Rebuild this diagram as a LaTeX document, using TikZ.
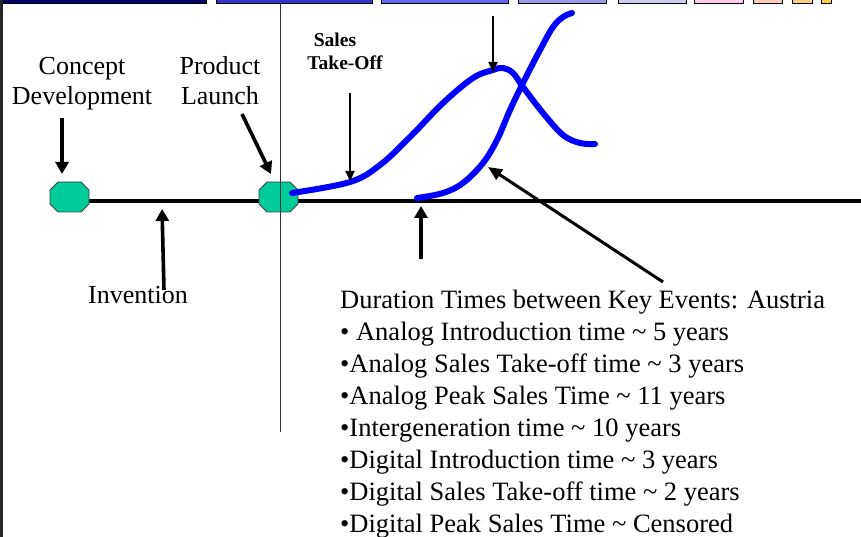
\documentclass[tikz,border=0pt]{standalone}
\usepackage{fontspec}
\setmainfont{Liberation Serif}
\usetikzlibrary{arrows.meta}
\definecolor{octfill}{HTML}{00CC99}
\definecolor{curveblue}{HTML}{0000FF}
\definecolor{barA}{HTML}{000066}
\definecolor{barB}{HTML}{3333CC}
\definecolor{barC}{HTML}{6666EE}
\definecolor{barD}{HTML}{9999EE}
\definecolor{barE}{HTML}{CCCCF0}
\definecolor{barF}{HTML}{FFCCF0}
\definecolor{barG}{HTML}{FFCCBB}
\definecolor{barH}{HTML}{FFCC88}
\definecolor{barI}{HTML}{FFCC44}
\newcommand{\octoshape}[1]{%
  \filldraw[fill=octfill, draw=black!75, line width=0.8pt]
    ([shift={(-19.5,-7)}]#1.center) -- ([shift={(-11.5,-15)}]#1.center) --
    ([shift={(11.5,-15)}]#1.center) -- ([shift={(19.5,-7)}]#1.center) --
    ([shift={(19.5,7)}]#1.center) -- ([shift={(11.5,15)}]#1.center) --
    ([shift={(-11.5,15)}]#1.center) -- ([shift={(-19.5,7)}]#1.center) -- cycle;}
\begin{document}
\begin{tikzpicture}[x=1pt,y=-1pt,
  octo/.style={minimum width=39pt, minimum height=30pt, inner sep=0pt},
  bigarrow/.style={line width=3.6pt, -{Triangle[width=13pt,length=12pt]}},
  thinarrow/.style={line width=2.2pt, -{Triangle[width=9pt,length=10pt]}},
  bluecurve/.style={curveblue, line width=6pt, line cap=round, line join=round},
  lbl/.style={font=\fontsize{26}{32}\selectfont, inner sep=0pt},
  listlbl/.style={font=\fontsize{26.5}{32}\selectfont, inner sep=0pt},
  boldlbl/.style={font=\fontsize{19.5}{23}\selectfont\bfseries, inner sep=0pt},
  bar/.style={draw=black, line width=0.6pt}]
\useasboundingbox (0,0) rectangle (861,537);
\fill[white] (0,0) rectangle (861,537);
% top bars
\foreach \a/\b/\c in {0/206/barA,216/372/barB,381/508/barC,518/606/barD,618/686/barE,694/743/barF,753/782/barG,792/812/barH,821/831/barI}
  \filldraw[bar, fill=\c] (\a,-2) rectangle (\b,3.5);
% left border
\draw[line width=2.6pt, black!85] (1.3,0) -- (1.3,537);
% timeline
\node[octo] (o1) at (69.5,197) {};
\node[octo] (o2) at (278.5,197) {};
\coordinate (lineR) at (861,201);
\draw[line width=4.5pt] (o1.east |- lineR) -- (lineR);
\octoshape{o1}
\octoshape{o2}
% thin vertical line
\coordinate (vt) at (280,3);
\coordinate (vb) at (280,432);
\draw[line width=0.9pt, black!80] (vt) -- (vb);
% curves
\draw[bluecurve] plot[smooth, tension=0.6] coordinates {(292,193) (350,182) (380,165) (410,137) (443,103) (473,78) (493,70) (503,68) (513,73) (523,87) (543,113) (563,135) (580,143) (595,144)};
\draw[bluecurve] plot[smooth, tension=0.6] coordinates {(417,198) (443,193) (463,183) (483,163) (497,140) (510,110) (523,83) (540,50) (553,27) (563,17) (572,13)};
% labels
\node[lbl, anchor=base] (cd1) at (82,75) {Concept};
\node[lbl, anchor=base] (cd2) at (82,105) {Development};
\node[lbl, anchor=base] (pl1) at (220,75) {Product};
\node[lbl, anchor=base] (pl2) at (220,105) {Launch};
\node[boldlbl, anchor=base] (st1) at (335,47) {Sales};
\node[boldlbl, anchor=base] (st2) at (345,70) {Take-Off};
\node[lbl, anchor=base] (inv) at (138,303) {Invention};
% arrow coordinates
\coordinate (cdA) at (62,118); \coordinate (cdB) at (62,174);
\coordinate (plA) at (242,114); \coordinate (plB) at (271,174);
\coordinate (invA) at (164,290); \coordinate (invB) at (162,209);
\coordinate (stA) at (350,93); \coordinate (stB) at (350,181);
\coordinate (pkA) at (493,16); \coordinate (pkB) at (493,72);
\coordinate (dlA) at (421,259); \coordinate (dlB) at (421,206);
\coordinate (dgA) at (663,282); \coordinate (dgB) at (488,167);
\draw[bigarrow] (cdA) -- (cdB);
\draw[bigarrow] (plA) -- (plB);
\draw[bigarrow] (invA) -- (invB);
\draw[thinarrow] (stA) -- (stB);
\draw[thinarrow] (pkA) -- (pkB);
\draw[bigarrow] (dlA) -- (dlB);
\draw[line width=3pt, -{Triangle[width=12pt,length=14pt]}] (dgA) -- (dgB);
% list
\foreach \t [count=\i] in {
  Duration Times between Key Events: Austria,
  • Analog Introduction time \textasciitilde{} 5 years,
  •Analog Sales Take-off time \textasciitilde{} 3 years,
  •Analog Peak Sales Time \textasciitilde{} 11 years,
  •Intergeneration time \textasciitilde{} 10 years,
  •Digital Introduction time \textasciitilde{} 3 years,
  •Digital Sales Take-off time \textasciitilde{} 2 years,
  •Digital Peak Sales Time \textasciitilde{} Censored}
  \node[listlbl, anchor=base west] (l\i) at (340,{308+32*(\i-1)}) {\t};
\end{tikzpicture}
\end{document}
